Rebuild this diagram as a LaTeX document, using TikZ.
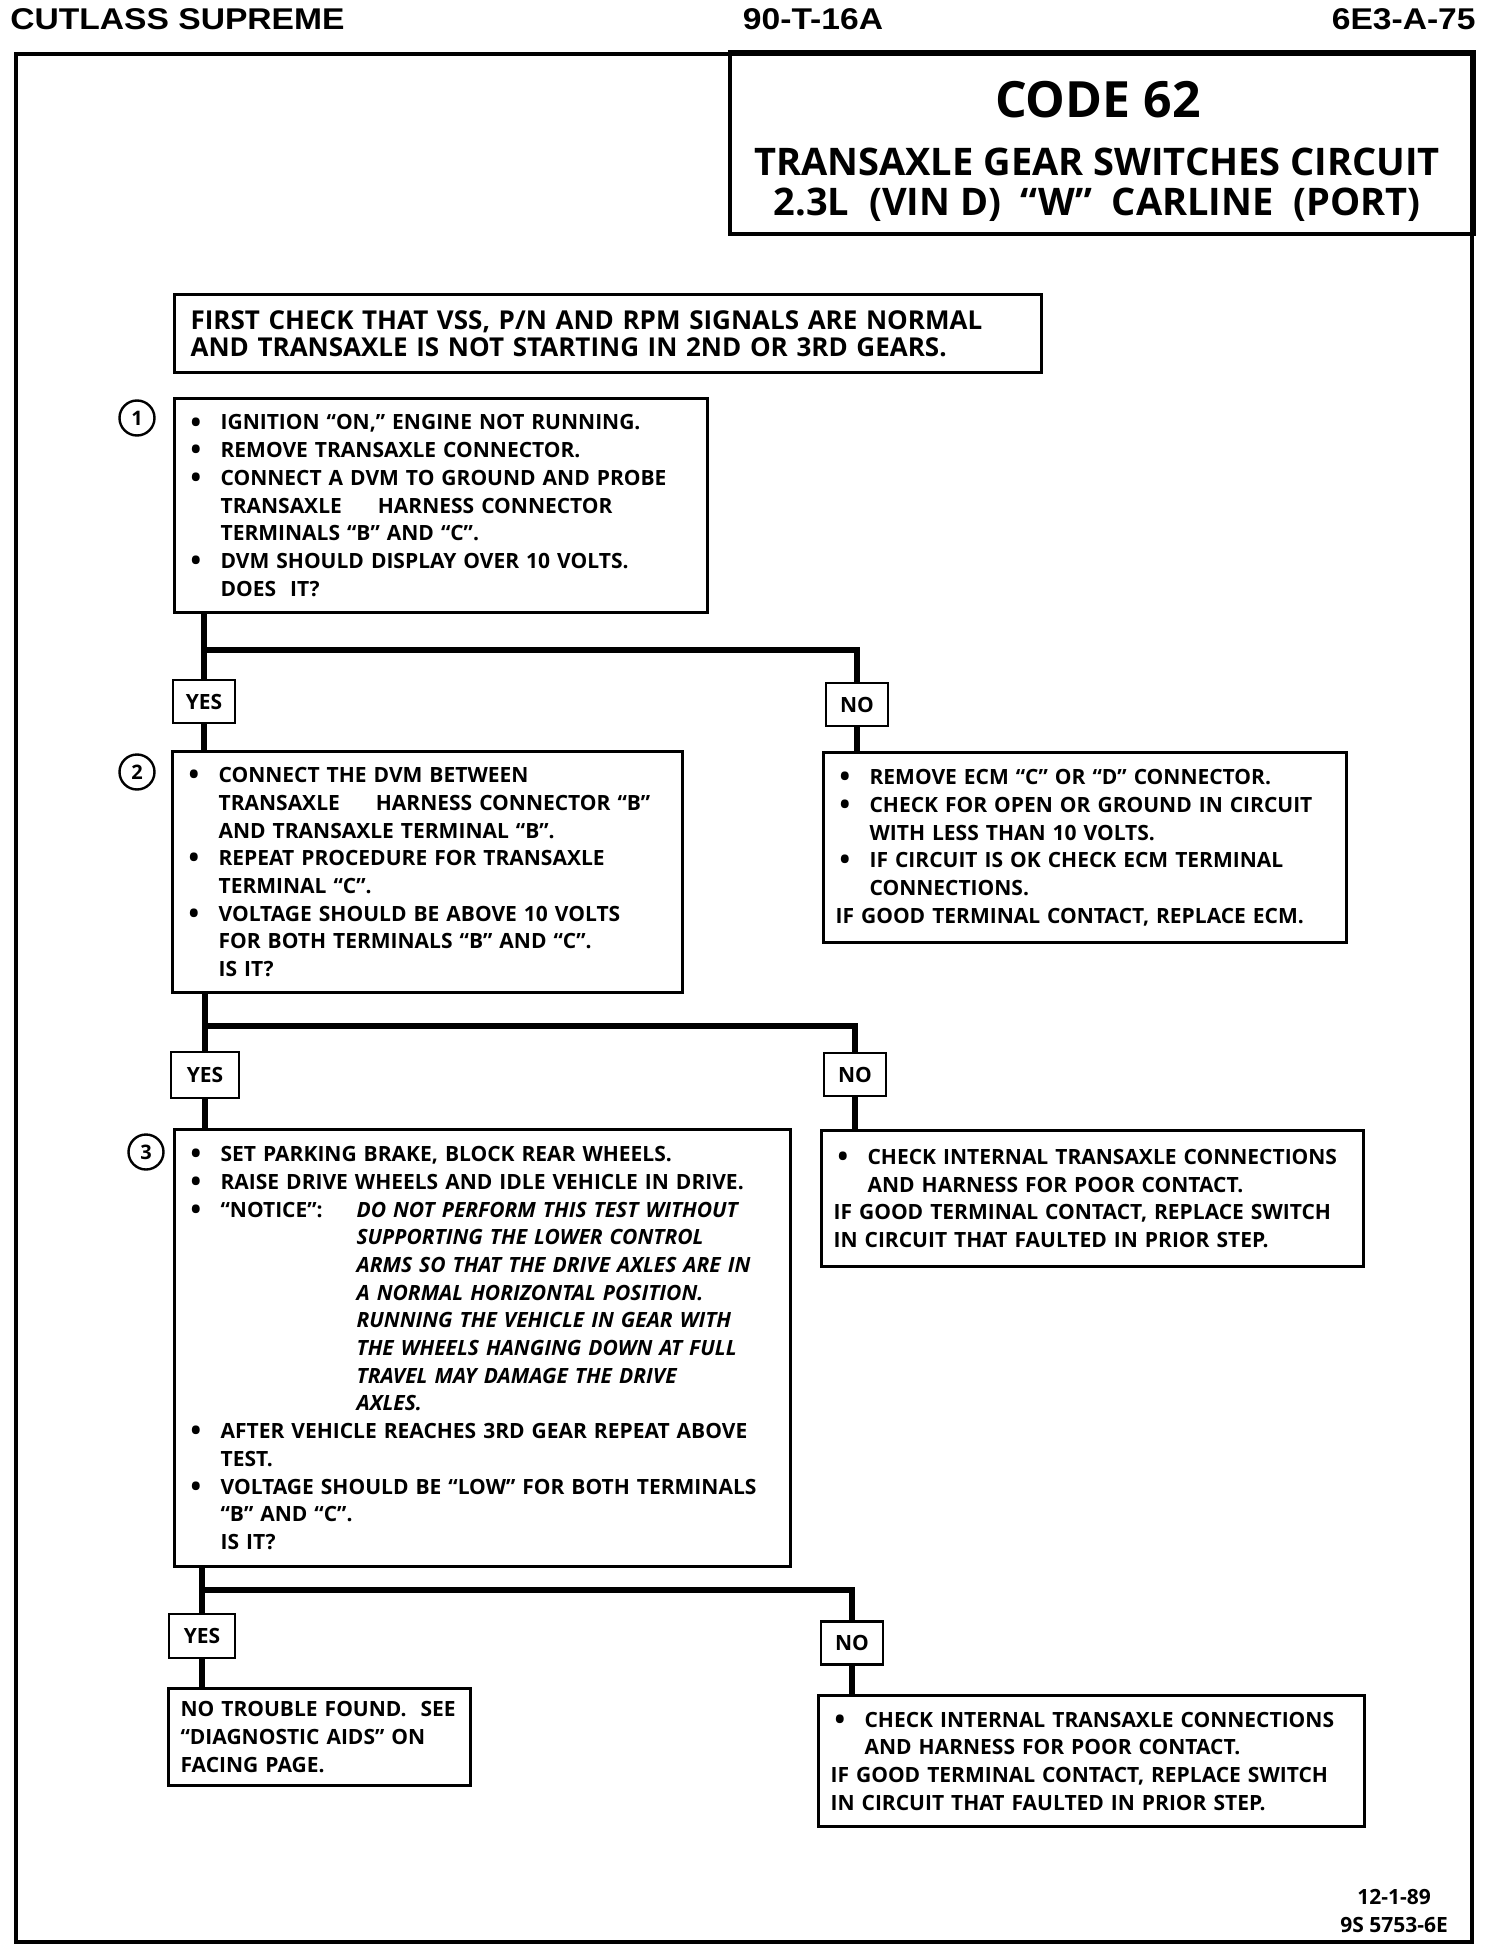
\documentclass[tikz,border=0pt]{standalone}
\usepackage{fontspec}
\newfontfamily\bodyfont{Open Sans}[Ligatures=TeX]
\newfontfamily\headfont{Liberation Sans}[FakeStretch=1.12]
\newcommand{\stepbul}{\hspace*{2pt}\makebox[15pt][l]{\raisebox{-1.1pt}{\fontsize{14}{14}\selectfont\textbullet}}}
\newcommand{\stepind}{\hspace*{17pt}}

\begin{document}
\begin{tikzpicture}[
    x=0.5pt, y=-0.5pt,
    header/.style={font=\headfont\bfseries\fontsize{15}{18}\selectfont, inner sep=0pt},
    titlebox/.style={draw, line width=2pt, anchor=north west, minimum width=372pt, minimum height=91pt},
    stepbox/.style={draw, line width=1.6pt, anchor=north west, align=left, inner xsep=6pt, inner ysep=0pt,
                    font=\bodyfont\bfseries\fontsize{10.5}{13.85}\selectfont},
    answer/.style={draw, line width=1.4pt, minimum width=31pt, minimum height=21.5pt, inner sep=0pt,
                   font=\bodyfont\bfseries\fontsize{10.5}{12}\selectfont},
    num/.style={circle, draw, line width=1.2pt, minimum size=17.5pt, inner sep=0pt,
                font=\bodyfont\bfseries\fontsize{10}{11}\selectfont},
    link/.style={line width=2.6pt}
]
\fill[white] (0,0) rectangle (1504,1952);
\useasboundingbox (0,0) rectangle (1504,1952);

\node[header, anchor=west] (car) at (10,19) {CUTLASS SUPREME};
\node[header] (sheet) at (813,19) {90-T-16A};
\node[header, anchor=east] (page) at (1476,19) {6E3-A-75};

\draw[line width=2pt] (16,54) rectangle (1472,1942);
\node[titlebox] (title) at (728,50) {};
\node[font=\bodyfont\bfseries\fontsize{25}{28}\selectfont] (code) at (1098,100) {CODE 62};
\node[align=center, font=\bodyfont\bfseries\fontsize{19}{20}\selectfont] (circuit) at (1097,185)
    {TRANSAXLE GEAR SWITCHES CIRCUIT\\2.3L~ (VIN D)~ ``W''~ CARLINE~ (PORT)};

\node[stepbox, text width=417.5pt, minimum height=39pt, inner xsep=8pt,
      font=\bodyfont\bfseries\fontsize{13}{13.8}\selectfont] (check) at (173,293)
    {FIRST CHECK THAT VSS, P/N AND RPM SIGNALS ARE NORMAL\\
     AND TRANSAXLE IS NOT STARTING IN 2ND OR 3RD GEARS.};

\node[stepbox, text width=254.5pt, minimum height=107pt] (step1) at (173,397)
    {\stepbul IGNITION ``ON,'' ENGINE NOT RUNNING.\\
     \stepbul REMOVE TRANSAXLE CONNECTOR.\\
     \stepbul CONNECT A DVM TO GROUND AND PROBE\\
     \stepind TRANSAXLE\hspace{18pt}HARNESS CONNECTOR\\
     \stepind TERMINALS ``B'' AND ``C''.\\
     \stepbul DVM SHOULD DISPLAY OVER 10 VOLTS.\\
     \stepind DOES~ IT?};
\node[num] (num1) at (137,418) {1};

\coordinate (fork1) at (204,650);
\node[answer] (yes1) at (204,701.5) {YES};
\node[answer] (no1) at (857,704.5) {NO};

\node[stepbox, text width=243pt, minimum height=120.5pt] (step2) at (171,750)
    {\stepbul CONNECT THE DVM BETWEEN\\
     \stepind TRANSAXLE\hspace{18pt}HARNESS CONNECTOR ``B''\\
     \stepind AND TRANSAXLE TERMINAL ``B''.\\
     \stepbul REPEAT PROCEDURE FOR TRANSAXLE\\
     \stepind TERMINAL ``C''.\\
     \stepbul VOLTAGE SHOULD BE ABOVE 10 VOLTS\\
     \stepind FOR BOTH TERMINALS ``B'' AND ``C''.\\
     \stepind IS IT?};
\node[num] (num2) at (137,772) {2};

\node[stepbox, text width=249.5pt, minimum height=95pt] (fix1) at (822,751)
    {\stepbul REMOVE ECM ``C'' OR ``D'' CONNECTOR.\\
     \stepbul CHECK FOR OPEN OR GROUND IN CIRCUIT\\
     \stepind WITH LESS THAN 10 VOLTS.\\
     \stepbul IF CIRCUIT IS OK CHECK ECM TERMINAL\\
     \stepind CONNECTIONS.\\
     IF GOOD TERMINAL CONTACT, REPLACE ECM.};

\coordinate (fork2) at (205,1026);
\node[answer, minimum width=34pt, minimum height=23pt] (yes2) at (205,1075) {YES};
\node[answer] (no2) at (855,1074.5) {NO};

\node[stepbox, text width=296pt, minimum height=218.5pt] (step3) at (173,1128)
    {\stepbul SET PARKING BRAKE, BLOCK REAR WHEELS.\\
     \stepbul RAISE DRIVE WHEELS AND IDLE VEHICLE IN DRIVE.\\
     \stepbul \makebox[68pt][l]{``NOTICE'':}\textit{DO NOT PERFORM THIS TEST WITHOUT}\\
     \hspace*{85pt}\textit{SUPPORTING THE LOWER CONTROL}\\
     \hspace*{85pt}\textit{ARMS SO THAT THE DRIVE AXLES ARE IN}\\
     \hspace*{85pt}\textit{A NORMAL HORIZONTAL POSITION.}\\
     \hspace*{85pt}\textit{RUNNING THE VEHICLE IN GEAR WITH}\\
     \hspace*{85pt}\textit{THE WHEELS HANGING DOWN AT FULL}\\
     \hspace*{85pt}\textit{TRAVEL MAY DAMAGE THE DRIVE}\\
     \hspace*{85pt}\textit{AXLES.}\\
     \stepbul AFTER VEHICLE REACHES 3RD GEAR REPEAT ABOVE\\
     \stepind TEST.\\
     \stepbul VOLTAGE SHOULD BE ``LOW'' FOR BOTH TERMINALS\\
     \stepind ``B'' AND ``C''.\\
     \stepind IS IT?};
\node[num] (num3) at (146,1152) {3};

\node[stepbox, text width=259pt, minimum height=68pt] (fix2) at (820,1129)
    {\stepbul CHECK INTERNAL TRANSAXLE CONNECTIONS\\
     \stepind AND HARNESS FOR POOR CONTACT.\\
     IF GOOD TERMINAL CONTACT, REPLACE SWITCH\\
     IN CIRCUIT THAT FAULTED IN PRIOR STEP.};

\coordinate (fork3) at (202,1590);
\node[answer, minimum width=33pt, minimum height=22pt] (yes3) at (202,1636) {YES};
\node[answer] (no3) at (852,1643) {NO};

\node[stepbox, text width=139pt, minimum height=48.5pt] (done) at (167,1687)
    {NO TROUBLE FOUND.~ SEE\\
     ``DIAGNOSTIC AIDS'' ON\\
     FACING PAGE.};

\node[stepbox, text width=261pt, minimum height=65.5pt] (fix3) at (817,1694)
    {\stepbul CHECK INTERNAL TRANSAXLE CONNECTIONS\\
     \stepind AND HARNESS FOR POOR CONTACT.\\
     IF GOOD TERMINAL CONTACT, REPLACE SWITCH\\
     IN CIRCUIT THAT FAULTED IN PRIOR STEP.};

\node[align=center, font=\bodyfont\bfseries\fontsize{10.5}{14}\selectfont] (ref) at (1394,1911)
    {12-1-89\\9S 5753-6E};

\draw[link] (step1.south -| yes1) -- (yes1.north);
\draw[link] (fork1) -| (no1.north);
\draw[link] (yes1.south) -- (yes1.south |- step2.north);
\draw[link] (no1.south) -- (no1.south |- fix1.north);
\draw[link] (step2.south -| yes2) -- (yes2.north);
\draw[link] (fork2) -| (no2.north);
\draw[link] (yes2.south) -- (yes2.south |- step3.north);
\draw[link] (no2.south) -- (no2.south |- fix2.north);
\draw[link] (step3.south -| yes3) -- (yes3.north);
\draw[link] (fork3) -| (no3.north);
\draw[link] (yes3.south) -- (yes3.south |- done.north);
\draw[link] (no3.south) -- (no3.south |- fix3.north);
\end{tikzpicture}
\end{document}
